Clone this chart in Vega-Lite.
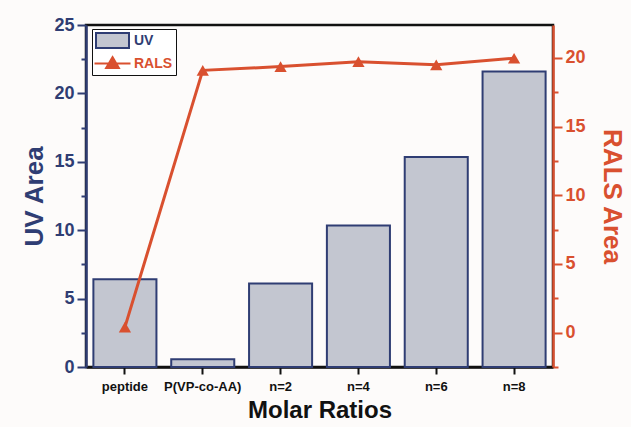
{
  "$schema": "https://vega.github.io/schema/vega-lite/v6.json",
  "autosize": "none",
  "width": 467,
  "height": 342,
  "padding": {"left": 86, "top": 25, "right": 78, "bottom": 60},
  "background": "#fdfbfa",
  "config": {
    "font": "Liberation Sans",
    "view": {"stroke": "#111111", "strokeWidth": 2.5, "fill": "#fdfbfa"}
  },
  "data": {
    "values": [
      {"category": "peptide", "uv": 6.42, "rals": 0.4},
      {"category": "P(VP-co-AA)", "uv": 0.56, "rals": 19.1},
      {"category": "n=2", "uv": 6.1, "rals": 19.37},
      {"category": "n=4", "uv": 10.35, "rals": 19.73},
      {"category": "n=6", "uv": 15.35, "rals": 19.5},
      {"category": "n=8", "uv": 21.6, "rals": 19.98}
    ]
  },
  "encoding": {
    "x": {
      "field": "category",
      "type": "nominal",
      "sort": null,
      "scale": {"paddingInner": 0.19, "paddingOuter": 0.095},
      "axis": {
        "title": "Molar Ratios",
        "titleFontSize": 24,
        "titleFontWeight": "bold",
        "titleColor": "#111111",
        "titlePadding": 5,
        "labelAngle": 0,
        "labelFontSize": 13,
        "labelFontWeight": "bold",
        "labelColor": "#111111",
        "labelPadding": 6,
        "domainColor": "#111111",
        "domainWidth": 2.5,
        "tickColor": "#111111",
        "tickWidth": 2,
        "tickSize": 7
      }
    }
  },
  "layer": [
    {
      "mark": {"type": "bar", "stroke": "#2f3d73", "strokeWidth": 2},
      "encoding": {
        "y": {
          "field": "uv",
          "type": "quantitative",
          "scale": {"domain": [0, 25], "nice": false},
          "axis": {
            "title": "UV Area",
            "titleFontSize": 26,
            "titleFontWeight": "bold",
            "titleColor": "#2f3d73",
            "titlePadding": 6,
            "values": [0, 2.5, 5, 7.5, 10, 12.5, 15, 17.5, 20, 22.5, 25],
            "labelExpr": "datum.value % 5 === 0 ? datum.label : ''",
            "labelFontSize": 18,
            "labelFontWeight": "bold",
            "labelColor": "#2f3d73",
            "labelPadding": 3,
            "grid": false,
            "domainColor": "#2f3d73",
            "domainWidth": 2.5,
            "tickColor": "#2f3d73",
            "tickWidth": 2,
            "tickSize": {"condition": {"test": "datum.value % 5 === 0", "value": 9}, "value": 5}
          }
        },
        "color": {
          "datum": "UV",
          "scale": {"domain": ["UV", "RALS"], "range": ["#c3c6d0", "#d9502f"]},
          "legend": {
            "orient": "none",
            "legendX": 6,
            "legendY": 4,
            "title": null,
            "strokeColor": "#111111",
            "fillColor": "#ffffff",
            "padding": 3,
            "rowPadding": 1,
            "symbolSize": 225,
            "symbolStrokeWidth": 2,
            "symbolType": {"expr": "datum.label === 'UV' ? 'M-2.2,-1H2.2V1H-2.2Z' : 'M-2.4,0H2.4M0,-0.85L0.85,0.6H-0.85Z'"},
            "symbolStrokeColor": {"expr": "datum.label === 'UV' ? '#2f3d73' : '#d9502f'"},
            "symbolOffset": 9,
            "labelColor": {"expr": "datum.label === 'UV' ? '#2f3d73' : '#d9502f'"},
            "labelFontSize": 14,
            "labelFontWeight": "bold",
            "labelOffset": 13
          }
        }
      }
    },
    {
      "layer": [
        {"mark": {"type": "line", "color": "#d9502f", "strokeWidth": 3}},
        {"mark": {"type": "point", "shape": "triangle-up", "filled": true, "size": 150, "opacity": 1, "color": "#d9502f"}}
      ],
      "encoding": {
        "y": {
          "field": "rals",
          "type": "quantitative",
          "scale": {"domain": [-2.5, 22.4], "nice": false, "zero": false},
          "axis": {
            "orient": "right",
            "title": "RALS Area",
            "titleFontSize": 26,
            "titleFontWeight": "bold",
            "titleColor": "#d9502f",
            "titlePadding": 13,
            "values": [-2.5, 0, 2.5, 5, 7.5, 10, 12.5, 15, 17.5, 20, 22.5],
            "labelExpr": "datum.value % 5 === 0 ? datum.label : ''",
            "labelFontSize": 18,
            "labelFontWeight": "bold",
            "labelColor": "#d9502f",
            "labelPadding": 3,
            "grid": false,
            "domainColor": "#d9502f",
            "domainWidth": 2.5,
            "tickColor": "#d9502f",
            "tickWidth": 2,
            "tickSize": {"condition": {"test": "datum.value % 5 === 0", "value": 9}, "value": 5}
          }
        }
      }
    }
  ],
  "resolve": {"scale": {"y": "independent"}}
}
